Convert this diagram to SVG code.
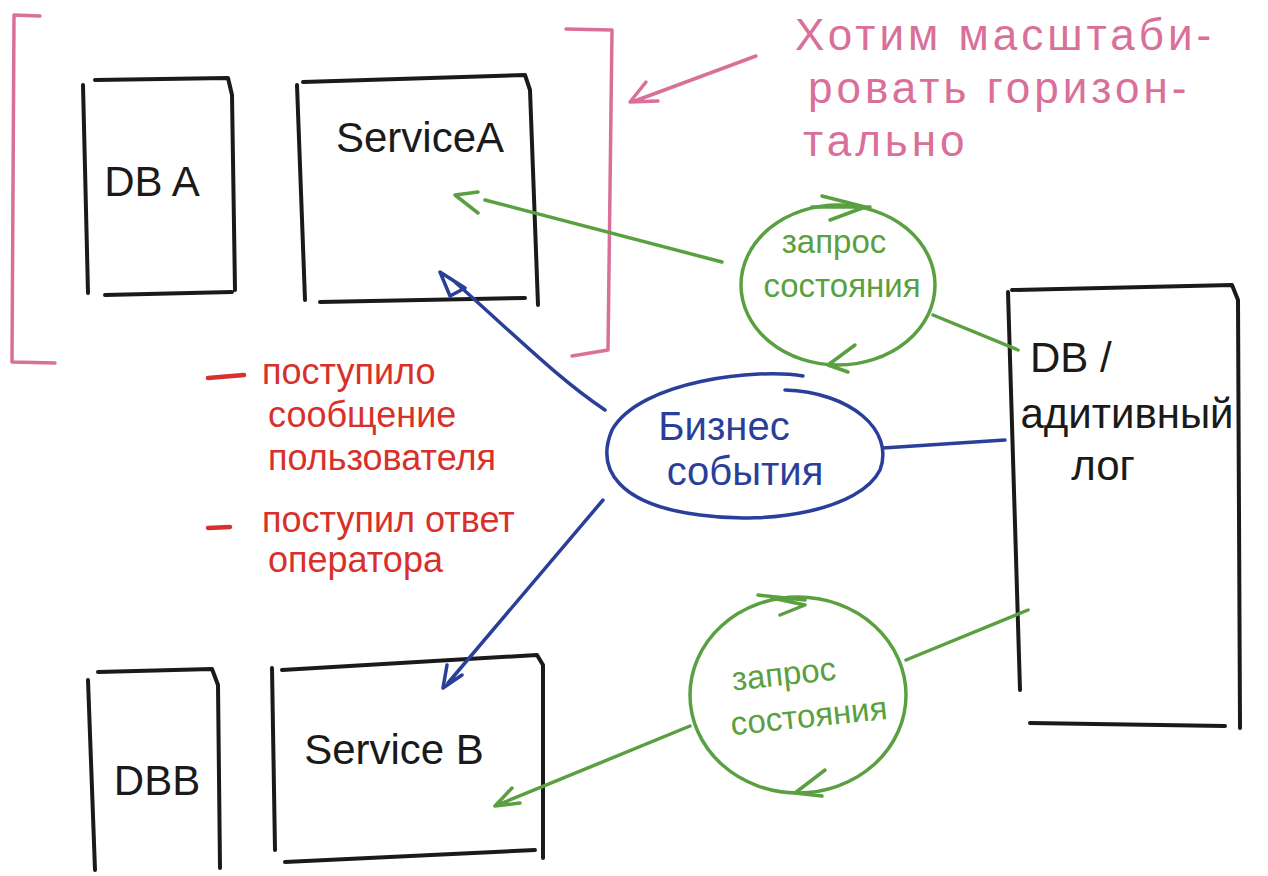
<svg xmlns="http://www.w3.org/2000/svg" width="1268" height="876" viewBox="0 0 1268 876">
<style>
  .box{fill:none;stroke:#1a1a1a;stroke-width:4;stroke-linecap:round;stroke-linejoin:round}
  .pink{fill:none;stroke:#d9709a;stroke-width:3.5;stroke-linecap:round;stroke-linejoin:round}
  .green{fill:none;stroke:#5aa040;stroke-width:3.5;stroke-linecap:round;stroke-linejoin:round}
  .blue{fill:none;stroke:#2a3f9a;stroke-width:3.5;stroke-linecap:round;stroke-linejoin:round}
  .red{fill:none;stroke:#d8302a;stroke-width:4.5;stroke-linecap:round}
  text{font-family:"Liberation Sans","DejaVu Sans",sans-serif}
  .tb{fill:#1a1a1a;font-size:42px}
  .tp{fill:#d9709a;font-size:44px;letter-spacing:4px}
  .tg{fill:#5aa040;font-size:33px}
  .tbl{fill:#2a3f9a;font-size:40px}
  .tr{fill:#d8302a;font-size:36px}
</style>

<g id="bracket">
  <path class="pink" d="M40,16 L14,15 L12,362 L55,363"/>
  <path class="pink" d="M566,29 L612,30 L608,350 L572,356"/>
</g>

<g id="dba">
  <path class="box" d="M83,85 L88,293 M95,80 L228,78 L232,95 L235,290 M105,295 L232,292"/>
  <text class="tb" x="152" y="196" text-anchor="middle">DB A</text>
</g>

<g id="serviceA">
  <path class="box" d="M297,85 L305,300 M303,82 L525,75 L530,90 L538,305 M320,302 L525,298"/>
  <text class="tb" x="420" y="152" text-anchor="middle" font-size="44">ServiceA</text>
</g>

<g id="horiz-note">
  <text class="tp" x="795" y="50">Хотим масштаби-</text>
  <text class="tp" x="808" y="103">ровать горизон-</text>
  <text class="tp" x="803" y="156">тально</text>
</g>

<g id="dblog">
  <path class="box" d="M1008,292 L1020,690 M1012,290 L1232,285 L1238,300 L1240,728 M1030,723 L1225,726"/>
  <text class="tb" x="1030" y="372" font-size="52">DB /</text>
  <text class="tb" x="1127" y="428" text-anchor="middle" font-size="30">адитивный</text>
  <text class="tb" x="1103" y="480" text-anchor="middle" font-size="34">лог</text>
</g>

<g id="events">
  <path class="blue" d="M803,376 C760,368 640,380 612,430 C595,470 620,505 700,515 C770,525 860,510 880,470 C895,430 850,392 785,390"/>
  <text class="tbl" x="724" y="440" text-anchor="middle">Бизнес</text>
  <text class="tbl" x="745" y="485" text-anchor="middle">события</text>
</g>

<g id="query1">
  <ellipse class="green" cx="838" cy="285" rx="97" ry="80"/>
  <path class="green" d="M812,207 L870,207 M822,196 L865,207 L830,220"/>
  <path class="green" d="M855,345 L828,365 L848,372"/>
  <text class="tg" x="834" y="253" text-anchor="middle">запрос</text>
  <text class="tg" x="842" y="297" text-anchor="middle">состояния</text>
</g>

<g id="query2">
  <ellipse class="green" cx="798" cy="695" rx="108" ry="98"/>
  <path class="green" d="M758,595 L805,600 M772,598 L805,605 L780,615"/>
  <path class="green" d="M825,770 L795,793 L822,796"/>
  <text class="tg" x="785" y="685" text-anchor="middle" transform="rotate(-6 785 685)">запрос</text>
  <text class="tg" x="810" y="727" text-anchor="middle" transform="rotate(-6 810 727)">состояния</text>
</g>

<g id="events-note">
  <path class="red" d="M208,378 L244,375 M208,528 L230,527"/>
  <text class="tr" x="262" y="384">поступило</text>
  <text class="tr" x="268" y="427">сообщение</text>
  <text class="tr" x="268" y="470">пользователя</text>
  <text class="tr" x="262" y="532">поступил ответ</text>
  <text class="tr" x="268" y="572">оператора</text>
</g>

<g id="dbb">
  <path class="box" d="M88,680 L95,870 M98,672 L212,669 L218,685 L220,868"/>
  <text class="tb" x="157" y="795" text-anchor="middle" font-size="44">DBB</text>
</g>

<g id="serviceB">
  <path class="box" d="M272,668 L275,850 M282,670 L537,655 L543,665 L543,858 M285,862 L535,850"/>
  <text class="tb" x="394" y="764" text-anchor="middle" font-size="46">Service B</text>
</g>

<g id="connectors">
  <path class="pink" d="M756,56 L632,102 M646,82 L630,102 L658,101"/>
  <path class="green" d="M722,262 L485,200 M478,192 L455,195 L478,213"/>
  <path class="green" d="M933,315 L1018,350"/>
  <path class="blue" d="M605,410 C560,380 520,340 455,282 M440,272 L465,288 L450,296 Z"/>
  <path class="blue" d="M883,448 L1005,440"/>
  <path class="blue" d="M603,500 L448,683 M443,688 L447,665 M443,688 L462,675"/>
  <path class="green" d="M906,660 L1028,610"/>
  <path class="green" d="M690,726 L500,804 M495,806 L512,788 M495,806 L520,803"/>
</g>
</svg>
